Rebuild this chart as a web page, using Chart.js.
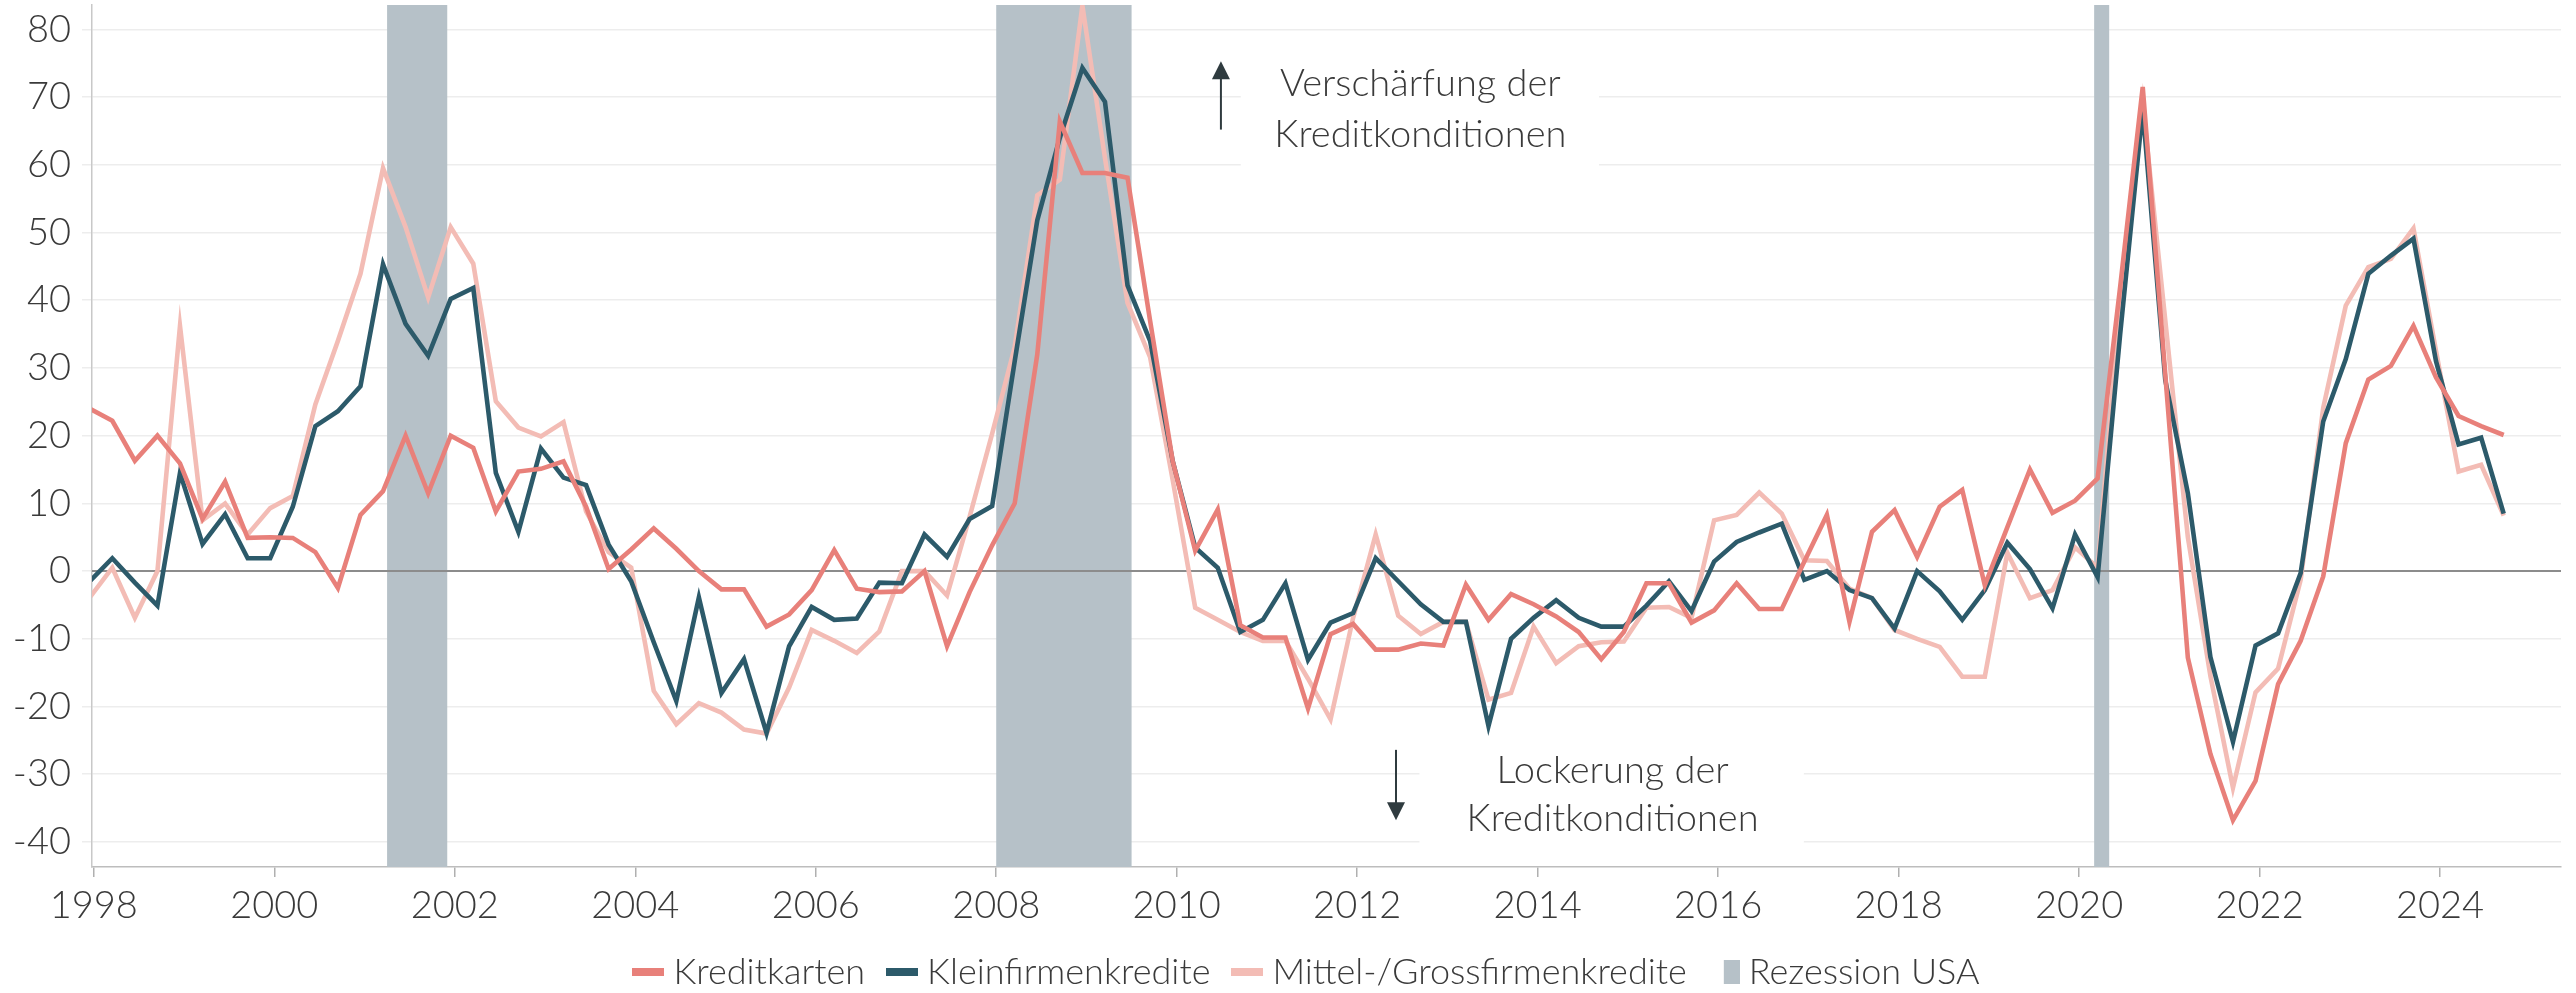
<!DOCTYPE html>
<html><head><meta charset="utf-8">
<script src="https://cdn.jsdelivr.net/npm/chart.js@4/dist/chart.umd.min.js"></script>
<style>html,body{margin:0;padding:0;background:#fff;overflow:hidden}</style>
</head><body>
<canvas id="c" width="2576" height="993"></canvas>
<script>
// ---------- DATA ----------
const startYear = 1997, startQuarter = 4; // first observation: 1997 Q4
const kreditkarten = [24.0,22.2,16.3,20.0,15.9,7.7,13.2,4.9,5.0,4.9,2.8,-2.5,8.3,11.8,20.0,11.5,20.0,18.2,8.8,14.7,15.1,16.2,9.5,0.3,3.2,6.3,3.3,0.0,-2.7,-2.7,-8.2,-6.4,-2.8,3.1,-2.6,-3.1,-3.0,0.0,-11.1,-3.1,3.8,10.0,32.0,66.4,58.8,58.8,58.1,37.0,16.3,3.0,9.1,-8.0,-9.8,-9.8,-20.3,-9.3,-7.8,-11.6,-11.6,-10.7,-11.0,-2.0,-7.2,-3.4,-4.9,-6.7,-9.0,-13.0,-9.0,-1.8,-1.8,-7.6,-5.8,-1.8,-5.6,-5.6,1.4,8.3,-7.5,5.8,9.0,2.1,9.5,12.0,-2.1,6.5,15.0,8.6,10.4,13.7,42.0,71.5,29.0,-12.8,-27.0,-36.8,-31.0,-16.7,-10.3,-0.8,18.9,28.3,30.3,36.2,28.6,22.9,21.4,20.1];
const kleinfirmen = [-1.5,1.9,-1.7,-5.1,14.5,4.0,8.4,1.9,1.9,9.5,21.4,23.6,27.3,45.3,36.5,31.8,40.2,41.8,14.5,5.8,18.1,13.8,12.7,3.9,-1.5,-10.5,-19.2,-3.9,-18.0,-13.0,-23.9,-11.1,-5.3,-7.2,-7.0,-1.7,-1.8,5.4,2.1,7.7,9.6,31.0,51.8,64.0,74.3,69.3,42.2,34.0,16.3,3.5,0.5,-9.0,-7.2,-1.8,-13.1,-7.6,-6.2,1.9,-1.5,-4.9,-7.5,-7.5,-22.9,-10.0,-6.9,-4.3,-6.9,-8.2,-8.2,-5.1,-1.5,-5.9,1.4,4.3,5.7,7.0,-1.3,0.0,-2.8,-4.0,-8.5,0.0,-3.0,-7.2,-2.8,4.2,0.3,-5.5,5.4,-0.9,35.0,68.2,28.2,11.5,-12.7,-25.2,-11.0,-9.2,-0.3,22.1,31.3,43.9,46.6,49.1,31.0,18.7,19.7,8.5];
const mittelGross = [-3.9,0.5,-6.9,0.0,36.2,7.5,10.0,5.4,9.3,11.1,24.6,34.0,43.9,59.5,50.8,40.4,50.8,45.4,25.1,21.2,19.9,22.0,8.8,2.8,0.5,-17.7,-22.6,-19.5,-20.9,-23.4,-24.0,-17.2,-8.7,-10.3,-12.1,-8.9,0.0,0.0,-3.6,8.0,20.3,33.1,55.5,57.8,83.5,61.0,39.6,31.6,13.5,-5.4,-7.2,-9.0,-10.3,-10.3,-15.9,-21.9,-6.9,5.4,-6.6,-9.3,-7.5,-7.5,-19.0,-18.0,-8.2,-13.6,-11.1,-10.5,-10.4,-5.4,-5.3,-6.9,7.5,8.3,11.6,8.5,1.6,1.5,-2.6,-4.0,-8.7,-10.0,-11.2,-15.6,-15.6,2.7,-4.0,-2.8,3.5,0.5,40.0,69.0,37.0,5.0,-15.5,-32.0,-17.9,-14.4,-1.3,24.1,39.2,44.9,46.1,50.6,32.5,14.7,15.7,8.2];
const recessions = [["2001-04","2001-12"],["2008-01","2009-07"],["2020-03","2020-05"]];
const xTickLabels = [1998,2000,2002,2004,2006,2008,2010,2012,2014,2016,2018,2020,2022,2024];
const yTickLabels = [-40,-30,-20,-10,0,10,20,30,40,50,60,70,80];
const seriesNames = ["Kreditkarten","Kleinfirmenkredite","Mittel-/Grossfirmenkredite"];
const recessionName = "Rezession USA";
const noteUp = ["Verschärfung der","Kreditkonditionen"];
const noteDown = ["Lockerung der","Kreditkonditionen"];

// ---------- helpers ----------
const quarters = [];
for (let n = 0, y = startYear, q = startQuarter; n < kreditkarten.length; n++) {
  quarters.push(y + "Q" + q);
  q++; if (q > 4) { q = 1; y++; }
}
// observation dated mid of last month of quarter
const qToYear = s => { const y = +s.slice(0,4), q = +s.slice(5); return y + (q*3-1)/12 + 14/365; };
const mToYear = s => { const [y,m] = s.split('-').map(Number); return y + (m-1)/12; };

const FONT = 'Lato, "Open Sans", sans-serif';
const TXT = '#3a3a3a';
const C = { red:'#E8807A', teal:'#2C5A6A', pink:'#F3BCB5', rec:'#B6C1C8' };

const lineImg = color => { const c = document.createElement('canvas'); c.width = 32; c.height = 8; const g = c.getContext('2d'); g.fillStyle = color; g.fillRect(0,0,32,8); return c; };
const sqImg = (() => { const c = document.createElement('canvas'); c.width = 32; c.height = 24; const g = c.getContext('2d'); g.fillStyle = C.rec; g.fillRect(16,0,16,24); return c; })();

const mk = (label, vals, color) => ({
  label, data: quarters.map((q,i)=>({x:qToYear(q), y:vals[i]})),
  borderColor: color, backgroundColor: color, borderWidth: 4.6,
  pointRadius: 0, tension: 0, fill: false
});

const legendShift = { id: 'legendShift', afterLayout(chart) { const l = chart.legend; if (l) { l.left -= 16; l.right -= 16; } } };

const annot = {
  id: 'annot',
  beforeDatasetsDraw(chart) {
    const {ctx, chartArea:a, scales:{x,y}} = chart;
    ctx.save();
    ctx.beginPath(); ctx.rect(a.left, a.top, a.right-a.left, a.bottom-a.top); ctx.clip();
    ctx.fillStyle = C.rec;
    for (const [s,e] of recessions) {
      const x0 = x.getPixelForValue(mToYear(s)), x1 = x.getPixelForValue(mToYear(e));
      ctx.fillRect(x0, a.top, x1-x0, a.bottom-a.top);
    }
    ctx.fillStyle = '#fff';
    const box = (xa,xb,ya,yb) => { const p0=x.getPixelForValue(xa), p1=x.getPixelForValue(xb), q0=y.getPixelForValue(ya), q1=y.getPixelForValue(yb); ctx.fillRect(p0,q0,p1-p0,q1-q0); };
    box(2010.71, 2014.68, 75.9, 58.4);
    box(2012.69, 2016.95, -26.1, -42.8);
    const y0 = y.getPixelForValue(0);
    ctx.strokeStyle = '#8c8c8c'; ctx.lineWidth = 2;
    ctx.beginPath(); ctx.moveTo(a.left, y0); ctx.lineTo(a.right, y0); ctx.stroke();
    ctx.restore();
  },
  afterDraw(chart) {
    const {ctx, scales:{x,y}} = chart;
    ctx.save();
    ctx.fillStyle = TXT; ctx.font = '300 38px ' + FONT; ctx.textAlign = 'center'; ctx.textBaseline = 'alphabetic';
    const cx1 = x.getPixelForValue(2012.70);
    ctx.fillText(noteUp[0], cx1, y.getPixelForValue(70.2));
    ctx.fillText(noteUp[1], cx1, y.getPixelForValue(62.7));
    const cx2 = x.getPixelForValue(2014.83);
    ctx.fillText(noteDown[0], cx2, y.getPixelForValue(-31.3));
    ctx.fillText(noteDown[1], cx2, y.getPixelForValue(-38.4));
    const arrow = (xv, yFrom, yTo) => {
      const px = x.getPixelForValue(xv), p0 = y.getPixelForValue(yFrom), p1 = y.getPixelForValue(yTo);
      const dir = Math.sign(p1-p0);
      ctx.strokeStyle = '#2f3b3f'; ctx.fillStyle = '#2f3b3f'; ctx.lineWidth = 2;
      ctx.beginPath(); ctx.moveTo(px, p0); ctx.lineTo(px, p1 - dir*14); ctx.stroke();
      ctx.beginPath(); ctx.moveTo(px, p1); ctx.lineTo(px-9, p1-dir*18); ctx.lineTo(px+9, p1-dir*18); ctx.closePath(); ctx.fill();
    };
    arrow(2010.49, 65.2, 75.3);
    arrow(2012.43, -26.4, -36.8);
    ctx.restore();
  }
};

Chart.defaults.font.family = FONT;
Chart.defaults.font.weight = '300';
new Chart(document.getElementById('c'), {
  type: 'line',
  data: { datasets: [
    mk(seriesNames[0], kreditkarten, C.red),
    mk(seriesNames[1], kleinfirmen, C.teal),
    mk(seriesNames[2], mittelGross, C.pink)
  ]},
  options: {
    responsive: false, animation: false, devicePixelRatio: 1,
    layout: { padding: { top: 5, right: 15, left: 0, bottom: -7 } },
    scales: {
      x: {
        type: 'linear', min: 1997.98, max: 2025.34,
        afterBuildTicks: s => { s.ticks = xTickLabels.map(v => ({value: v})); },
        ticks: { callback: v => String(v), font: {size: 38, family: FONT, weight: '300'}, color: TXT, padding: 6, maxRotation: 0, autoSkip: false },
        grid: { drawOnChartArea: false, tickLength: 10, color: '#b0b0b0', lineWidth: 1.5 },
        border: { color: '#bdbdbd', width: 1.5 },
        afterFit: s => { s.height = 57; s.paddingLeft = 0; s.paddingRight = 0; }
      },
      y: {
        min: -43.7, max: 83.6,
        afterBuildTicks: s => { s.ticks = yTickLabels.map(v => ({value: v})); },
        ticks: { font: {size: 38, family: FONT, weight: '300'}, color: TXT, padding: 11 },
        grid: { color: '#ededed', lineWidth: 1.5, tickLength: 10 },
        border: { color: '#c8c8c8', width: 1.5 },
        afterFit: s => { s.width = 92; s.paddingTop = 0; s.paddingBottom = 0; }
      }
    },
    plugins: {
      tooltip: { enabled: false },
      legend: {
        position: 'bottom', fullSize: false,
        labels: {
          usePointStyle: true, pointStyleWidth: 14, boxHeight: 36,
          font: { size: 36, family: FONT, weight: '300' }, color: TXT, padding: 30,
          generateLabels: chart => {
            const items = chart.data.datasets.map((d,i) => ({
              text: d.label, fillStyle: d.borderColor, strokeStyle: d.borderColor,
              lineWidth: 0, pointStyle: lineImg(d.borderColor), hidden: false, datasetIndex: i, fontColor: TXT
            }));
            items.push({ text: recessionName, fillStyle: C.rec, strokeStyle: C.rec, lineWidth: 0, pointStyle: sqImg, hidden: false, fontColor: TXT });
            return items;
          }
        }
      }
    }
  },
  plugins: [annot, legendShift]
});
</script>
</body></html>
